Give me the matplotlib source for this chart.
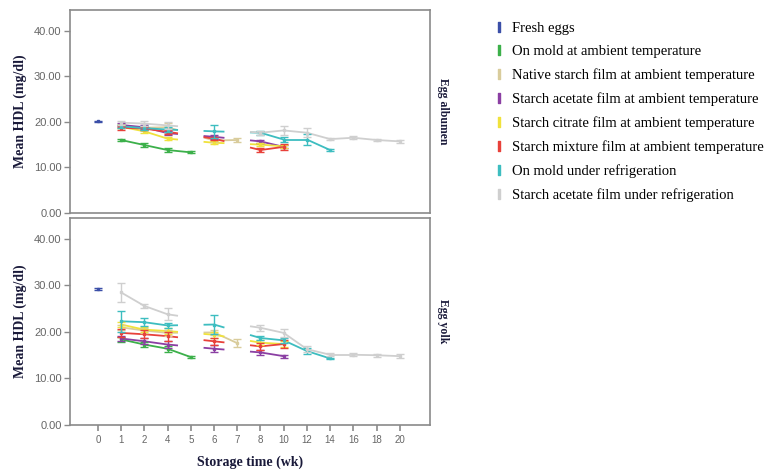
import numpy as np
import matplotlib
matplotlib.use("Agg")
import matplotlib.pyplot as plt
from matplotlib.lines import Line2D

nan = np.nan
weeks = ['0', '1', '2', '4', '5', '6', '7', '8', '10', '12', '14', '16', '18', '20']
series_names = ['Fresh eggs',
                'On mold at ambient temperature',
                'Native starch film at ambient temperature',
                'Starch acetate film at ambient temperature',
                'Starch citrate film at ambient temperature',
                'Starch mixture film at ambient temperature',
                'On mold under refrigeration',
                'Starch acetate film under refrigeration']
series_colors = ['#3b4fa8', '#3cb04a', '#d9cc9c', '#8b3fa3', '#f0e23c', '#e8413a', '#3dbdc0', '#cfcfcf']

# Egg albumen means (order of weeks above)
alb_fresh   = [20.1, nan, nan, nan, nan, nan, nan, nan, nan, nan, nan, nan, nan, nan]
alb_mold    = [nan, 16.0, 14.9, 13.8, 13.3, nan, nan, nan, nan, nan, nan, nan, nan, nan]
alb_native  = [nan, 19.1, 18.7, 18.8, nan, 15.9, 16.0, nan, nan, nan, nan, nan, nan, nan]
alb_acetate = [nan, 19.3, 18.8, 17.5, nan, 16.7, nan, 15.7, 14.5, nan, nan, nan, nan, nan]
alb_citrate = [nan, 18.9, 17.9, 16.3, nan, 15.4, nan, 15.0, 14.6, nan, nan, nan, nan, nan]
alb_mixture = [nan, 18.7, 18.5, 17.8, nan, 16.3, nan, 13.8, 14.5, nan, nan, nan, nan, nan]
alb_moldref = [nan, 19.0, 18.6, 18.3, nan, 17.9, nan, 17.6, 16.1, 16.1, 13.8, nan, nan, nan]
alb_acetref = [nan, 19.8, 19.6, 19.2, nan, nan, nan, 17.6, 18.1, 17.6, 16.2, 16.5, 16.0, 15.7]

# Egg albumen error bars
alb_fresh_e   = [0.1, nan, nan, nan, nan, nan, nan, nan, nan, nan, nan, nan, nan, nan]
alb_mold_e    = [nan, 0.3, 0.4, 0.4, 0.2, nan, nan, nan, nan, nan, nan, nan, nan, nan]
alb_native_e  = [nan, 0.4, 0.4, 1.0, nan, 0.4, 0.5, nan, nan, nan, nan, nan, nan, nan]
alb_acetate_e = [nan, 0.4, 0.4, 0.5, nan, 0.4, nan, 0.3, 0.3, nan, nan, nan, nan, nan]
alb_citrate_e = [nan, 0.3, 0.3, 0.3, nan, 0.3, nan, 0.3, 0.3, nan, nan, nan, nan, nan]
alb_mixture_e = [nan, 0.4, 0.4, 0.4, nan, 0.4, nan, 0.5, 0.6, nan, nan, nan, nan, nan]
alb_moldref_e = [nan, 0.4, 0.4, 0.5, nan, 1.5, nan, 0.4, 0.6, 1.2, 0.3, nan, nan, nan]
alb_acetref_e = [nan, 0.4, 0.5, 0.8, nan, nan, nan, 0.4, 0.9, 1.0, 0.3, 0.3, 0.3, 0.3]

# Egg yolk means
yolk_fresh   = [29.3, nan, nan, nan, nan, nan, nan, nan, nan, nan, nan, nan, nan, nan]
yolk_mold    = [nan, 18.4, 17.3, 16.4, 14.6, nan, nan, nan, nan, nan, nan, nan, nan, nan]
yolk_native  = [nan, 21.0, 20.3, 19.8, nan, 19.9, 17.6, nan, nan, nan, nan, nan, nan, nan]
yolk_acetate = [nan, 18.6, 18.0, 17.3, nan, 16.4, nan, 15.6, 14.8, nan, nan, nan, nan, nan]
yolk_citrate = [nan, 21.6, 20.5, 20.2, nan, 19.4, nan, 17.7, 17.4, nan, nan, nan, nan, nan]
yolk_mixture = [nan, 19.8, 19.5, 19.1, nan, 18.0, nan, 16.9, 17.4, nan, nan, nan, nan, nan]
yolk_moldref = [nan, 22.3, 22.1, 21.4, nan, 21.6, nan, 18.7, 18.2, 15.9, 14.3, nan, nan, nan]
yolk_acetref = [nan, 28.5, 25.6, 23.8, nan, nan, nan, 20.9, 19.8, 16.3, 15.1, 15.1, 15.0, 14.8]

# Egg yolk error bars
yolk_fresh_e   = [0.2, nan, nan, nan, nan, nan, nan, nan, nan, nan, nan, nan, nan, nan]
yolk_mold_e    = [nan, 0.5, 0.6, 0.6, 0.2, nan, nan, nan, nan, nan, nan, nan, nan, nan]
yolk_native_e  = [nan, 0.6, 0.6, 0.6, nan, 0.6, 0.8, nan, nan, nan, nan, nan, nan, nan]
yolk_acetate_e = [nan, 0.5, 0.6, 0.8, nan, 0.7, nan, 0.5, 0.3, nan, nan, nan, nan, nan]
yolk_citrate_e = [nan, 0.6, 0.6, 0.6, nan, 0.6, nan, 0.5, 0.6, nan, nan, nan, nan, nan]
yolk_mixture_e = [nan, 0.8, 0.9, 1.0, nan, 0.8, nan, 0.8, 0.9, nan, nan, nan, nan, nan]
yolk_moldref_e = [nan, 2.2, 0.8, 0.6, nan, 2.0, nan, 0.5, 0.5, 0.6, 0.2, nan, nan, nan]
yolk_acetref_e = [nan, 2.0, 0.4, 1.3, nan, nan, nan, 0.7, 0.8, 0.6, 0.3, 0.3, 0.3, 0.4]

alb_means = [alb_fresh, alb_mold, alb_native, alb_acetate, alb_citrate, alb_mixture, alb_moldref, alb_acetref]
alb_errs = [alb_fresh_e, alb_mold_e, alb_native_e, alb_acetate_e, alb_citrate_e, alb_mixture_e, alb_moldref_e, alb_acetref_e]
yolk_means = [yolk_fresh, yolk_mold, yolk_native, yolk_acetate, yolk_citrate, yolk_mixture, yolk_moldref, yolk_acetref]
yolk_errs = [yolk_fresh_e, yolk_mold_e, yolk_native_e, yolk_acetate_e, yolk_citrate_e, yolk_mixture_e, yolk_moldref_e, yolk_acetref_e]

yticks = [0, 10, 20, 30, 40]
ytick_labels = ['0.00', '10.00', '20.00', '30.00', '40.00']

serif = ['Liberation Serif', 'DejaVu Serif']
sans = ['Liberation Sans', 'DejaVu Sans']
axis_gray = '#8a8a8a'
tick_gray = '#666666'

fig = plt.figure(figsize=(7.76, 4.70), dpi=100)
ax_top = fig.add_axes([70 / 776, 1 - 213 / 470, 360 / 776, 203 / 470])
ax_bot = fig.add_axes([70 / 776, 1 - 425 / 470, 360 / 776, 207 / 470])


def draw_series(ax, vals, errs, color, z):
    v = np.array(vals, dtype=float)
    e = np.array(errs, dtype=float)
    idx = [i for i in range(len(v)) if not np.isnan(v[i])]
    for a, b in zip(idx, idx[1:]):
        if b == a + 1:
            ax.plot([a, b], [v[a], v[b]], color=color, lw=1.3, zorder=z, solid_capstyle='butt')
        else:
            slope = (v[b] - v[a]) / (b - a)
            ax.plot([a, a + 0.45], [v[a], v[a] + slope * 0.45], color=color, lw=1.3, zorder=z,
                    solid_capstyle='butt')
            ax.plot([b - 0.45, b], [v[b] - slope * 0.45, v[b]], color=color, lw=1.3, zorder=z,
                    solid_capstyle='butt')
    ax.errorbar(idx, v[idx], yerr=e[idx], fmt='none', ecolor=color, elinewidth=1.0,
                capsize=3, capthick=1.0, zorder=z + 0.5)
    ax.plot(idx, v[idx], ls='none', marker='s', ms=2, color=color, zorder=z + 0.6)


for ax, means, errs, side_label in [(ax_top, alb_means, alb_errs, 'Egg albumen'),
                                     (ax_bot, yolk_means, yolk_errs, 'Egg yolk')]:
    for k in range(len(means)):
        draw_series(ax, means[k], errs[k], series_colors[k], 2 + k * 0.1)
    ax.set_xlim(-1.2, 14.3)
    ax.set_ylim(0, 44.5)
    ax.set_yticks(yticks)
    ax.set_yticklabels(ytick_labels, fontsize=8, color=tick_gray, family=sans)
    for sp in ax.spines.values():
        sp.set_color(axis_gray)
        sp.set_linewidth(1.2)
    ax.tick_params(axis='y', colors=axis_gray, length=4, width=1, labelcolor=tick_gray, pad=2)
    ax.set_ylabel('Mean HDL (mg/dl)', fontsize=10, fontweight='bold', family=serif,
                  color='#1a1a3a', labelpad=5)
    ax.text(1.035, 0.5, side_label, transform=ax.transAxes, rotation=-90, ha='center',
            va='center', fontsize=8.5, fontweight='bold', family=serif, color='#1a1a3a')

ax_top.set_xticks([])
ax_bot.set_xticks(range(len(weeks)))
ax_bot.set_xticklabels(weeks, fontsize=7, color=tick_gray, family=sans)
ax_bot.tick_params(axis='x', colors=axis_gray, length=4, width=1.2, labelcolor=tick_gray)
ax_bot.set_xlabel('Storage time (wk)', fontsize=10, fontweight='bold', family=serif,
                  color='#1a1a3a', labelpad=7)

handles = [Line2D([], [], ls='none', marker=r'$\mathrm{I}$', ms=7, color=c) for c in series_colors]
fig.legend(handles, series_names, loc='upper left', bbox_to_anchor=(487 / 776, 1 - 16 / 470),
           frameon=False, prop={'family': serif, 'size': 10.5}, handlelength=0.8,
           handletextpad=0.5, labelspacing=0.7, borderaxespad=0)

fig.savefig('out.png', dpi=100)
